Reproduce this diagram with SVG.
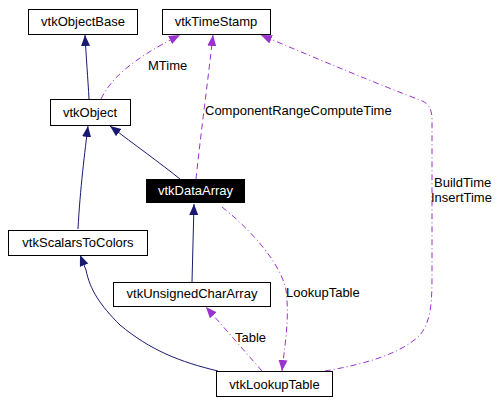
<svg xmlns="http://www.w3.org/2000/svg" width="503" height="404" viewBox="0 0 503 404">
<style>
.box{fill:#fff;stroke:#000;stroke-width:1}
.lbl{font-family:"Liberation Sans",Arial,sans-serif;font-size:13px;fill:#000}
.nl{text-anchor:middle}
.inh{fill:none;stroke:#191970;stroke-width:1}
.use{fill:none;stroke:#9a32cd;stroke-width:1;stroke-dasharray:6,4}
.dd{stroke-dasharray:6,3,1,3}
</style>
<defs>
<marker id="an" markerUnits="userSpaceOnUse" markerWidth="12" markerHeight="12" viewBox="0 0 12 12" refX="11" refY="6" orient="auto">
<polygon points="0,1.5 11,6 0,10.5" fill="#191970"/>
</marker>
<marker id="ap" markerUnits="userSpaceOnUse" markerWidth="12" markerHeight="12" viewBox="0 0 12 12" refX="11" refY="6" orient="auto">
<polygon points="0,1.5 11,6 0,10.5" fill="#9a32cd"/>
</marker>
</defs>
<g id="connectors">
<path class="inh" d="M89,99 C88,80 86,55 85,35" marker-end="url(#an)"/>
<path class="use dd" d="M101,99 C110,80 130,60 180,35" marker-end="url(#ap)"/>
<path class="inh" d="M180,179 C160,163 135,145 110,126" marker-end="url(#an)"/>
<path class="use" d="M196,179 C200,140 208,80 213,35" marker-end="url(#ap)"/>
<path class="inh" d="M78,229 C80,190 85,150 88,126" marker-end="url(#an)"/>
<path class="inh" d="M192,282 L194,204" marker-end="url(#an)"/>
<path class="inh" d="M218,371 C180,362 150,350 120,325 C100,305 90,290 86,270 L80,255" marker-end="url(#an)"/>
<path class="use dd" d="M262,371 L206,307" marker-end="url(#ap)"/>
<path class="use dd" d="M222,207 C245,225 280,260 286,290 C290,320 284,350 282,371" marker-end="url(#ap)"/>
<path class="use dd" d="M325,371 C360,365 400,355 420,335 C432,320 432,300 432,270 L432,120 C432,108 428,103 420,100 C380,85 320,60 261,35" marker-end="url(#ap)"/>
<text class="lbl" x="148" y="70">MTime</text>
<text class="lbl" x="205" y="115">ComponentRangeComputeTime</text>
<text class="lbl" x="434" y="187">BuildTime</text>
<text class="lbl" x="431" y="202">InsertTime</text>
<text class="lbl" x="286" y="297">LookupTable</text>
<text class="lbl" x="235" y="342">Table</text>
</g>
<g id="vtkObjectBase"><rect class="box" x="28.5" y="9.5" width="109" height="25"/><text class="lbl nl" x="83" y="26">vtkObjectBase</text></g>
<g id="vtkTimeStamp"><rect class="box" x="162.5" y="9.5" width="108" height="25"/><text class="lbl nl" x="216" y="26">vtkTimeStamp</text></g>
<g id="vtkObject"><rect class="box" x="50.5" y="99.5" width="80" height="26"/><text class="lbl nl" x="90" y="117">vtkObject</text></g>
<g id="vtkDataArray"><rect x="146" y="179" width="99" height="24" fill="#000"/><text class="lbl nl" x="195.5" y="195" fill="#fff" style="fill:#fff">vtkDataArray</text></g>
<g id="vtkScalarsToColors"><rect class="box" x="8.5" y="230.5" width="139" height="25"/><text class="lbl nl" x="78" y="247">vtkScalarsToColors</text></g>
<g id="vtkUnsignedCharArray"><rect class="box" x="113.5" y="282.5" width="157" height="24"/><text class="lbl nl" x="192" y="298">vtkUnsignedCharArray</text></g>
<g id="vtkLookupTable"><rect class="box" x="216.5" y="371.5" width="116" height="25"/><text class="lbl nl" x="274.5" y="389">vtkLookupTable</text></g>
</svg>
